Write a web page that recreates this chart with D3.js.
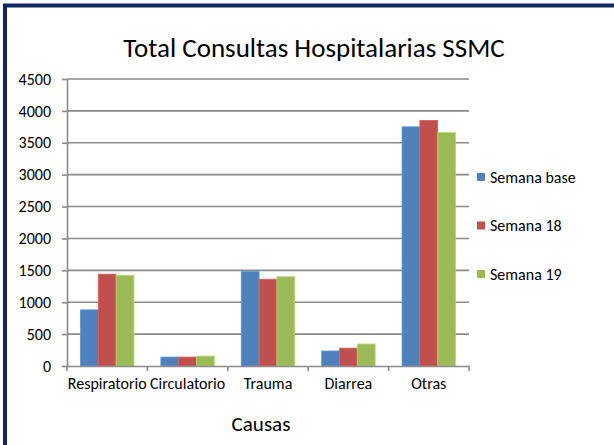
<!DOCTYPE html>
<html><head><meta charset="utf-8">
<script src="https://cdn.jsdelivr.net/npm/d3@7"></script>
<style>body{margin:0;background:#fff;overflow:hidden;}svg{display:block;}</style>
</head><body>
<svg id="c" width="614" height="445"></svg>
<script>
const categories = ["Respiratorio","Circulatorio","Trauma","Diarrea","Otras"];
const seriesNames = ["Semana base","Semana 18","Semana 19"];
const semanaBase = [880, 140, 1480, 235, 3750];
const semana18 = [1440, 140, 1360, 280, 3850];
const semana19 = [1420, 155, 1400, 345, 3660];
const yTicks = [0,500,1000,1500,2000,2500,3000,3500,4000,4500];
const colors = ["#4F81BD","#C0504D","#9BBB59"];
const series = [semanaBase, semana18, semana19];
const FONT = "Carlito, Lato, 'Liberation Sans', sans-serif";

const svg = d3.select("#c").attr("font-family", FONT);
svg.append("rect").attr("x",0).attr("y",0).attr("width",614).attr("height",445).attr("fill","#fff");
svg.append("path").attr("d","M5,445V5.5H614")
  .attr("fill","none").attr("stroke","#10265F").attr("stroke-width",4);

const L=67, R=469, T=79, B=366;
const x0 = d3.scaleBand().domain(categories).range([L,R]).padding(0);
const x1 = d3.scaleBand().domain(seriesNames).range([x0.bandwidth()*0.1675, x0.bandwidth()*0.8325]).padding(0);
const y = d3.scaleLinear().domain([0,4500]).range([B,T]);

// gridlines
svg.append("g").selectAll("line").data(yTicks.filter(d=>d>0)).join("line")
  .attr("x1",L).attr("x2",R).attr("y1",d=>y(d)).attr("y2",d=>y(d))
  .attr("stroke","#8a8a8a").attr("stroke-width",1.6);

// y axis
const ya = svg.append("g").attr("transform",`translate(${L},0)`)
  .call(d3.axisLeft(y).tickValues(yTicks).tickFormat(d3.format("d")).tickSize(5).tickPadding(11).tickSizeOuter(0))
  .attr("font-family", FONT);
ya.select(".domain").attr("stroke","#8a8a8a").attr("stroke-width",1.6);
ya.selectAll(".tick line").attr("stroke","#8a8a8a").attr("stroke-width",1.6);
ya.selectAll("text").attr("font-size",16).attr("fill","#000");

// bars
const g = svg.append("g");
categories.forEach((c,i)=>{
  series.forEach((s,j)=>{
    g.append("rect")
      .attr("x", x0(c)+x1(seriesNames[j]))
      .attr("y", y(s[i]))
      .attr("width", x1.bandwidth())
      .attr("height", B - y(s[i]))
      .attr("fill", colors[j])
      .attr("stroke", d3.color(colors[j]).brighter(0.4))
      .attr("stroke-width", 0.8);
  });
});

// x axis
const xa = svg.append("g").attr("transform",`translate(0,${B})`)
  .call(d3.axisBottom(x0).tickSize(0).tickPadding(12))
  .attr("font-family", FONT);
xa.select(".domain").attr("stroke","#8a8a8a").attr("stroke-width",1.6);
xa.selectAll("text").attr("font-size",16).attr("fill","#000");
const bounds = categories.map(c=>x0(c)).concat([R]);
svg.append("g").selectAll("line").data(bounds).join("line")
  .attr("x1",d=>d).attr("x2",d=>d).attr("y1",B).attr("y2",B+5)
  .attr("stroke","#8a8a8a").attr("stroke-width",1.6);

// title
svg.append("text").attr("x",314).attr("y",57).attr("text-anchor","middle")
  .attr("font-size",27).attr("font-weight",300).attr("fill","#000").text("Total Consultas Hospitalarias SSMC");
// x title
svg.append("text").attr("x",261).attr("y",431).attr("text-anchor","middle")
  .attr("font-size",21).attr("fill","#000").text("Causas");

// legend
const lg = svg.append("g");
seriesNames.forEach((n,j)=>{
  const cy = 177 + j*48.5;
  lg.append("rect").attr("x",477).attr("y",cy-4).attr("width",8).attr("height",8).attr("fill",colors[j]);
  lg.append("text").attr("x",490).attr("y",cy+5.5).attr("font-size",16).attr("fill","#000").text(n);
});
</script>
</body></html>
